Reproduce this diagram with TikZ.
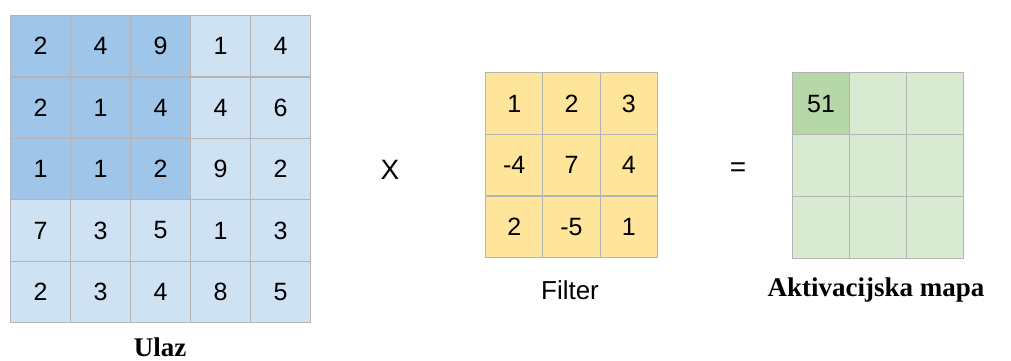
\documentclass[tikz,border=0pt]{standalone}
\usepackage{fontspec}
\setmainfont{Liberation Serif}
\setsansfont{Liberation Sans}
\usetikzlibrary{positioning}

\definecolor{inlight}{HTML}{CFE2F3}
\definecolor{indark}{HTML}{9FC5E8}
\definecolor{filtfill}{HTML}{FFE599}
\definecolor{maplight}{HTML}{D9EAD3}
\definecolor{mapdark}{HTML}{B6D7A8}
\definecolor{gridline}{HTML}{B4B4B4}

\begin{document}
\begin{tikzpicture}[
    x=1pt, y=-1pt,
    cell/.style = {
        rectangle,
        draw=gridline,
        line width=1.1pt,
        anchor=north west,
        inner sep=0pt,
        font=\sffamily\fontsize{25}{25}\selectfont
    },
    incell/.style = {cell, minimum width=60pt, minimum height=61.4pt},
    filtcell/.style = {cell, fill=filtfill, minimum width=57.3pt, minimum height=61.7pt},
    mapcell/.style = {cell, minimum width=57pt, minimum height=62pt},
    caption/.style = {font=\bfseries\fontsize{27}{27}\selectfont},
    sfcaption/.style = {font=\sffamily\fontsize{26}{26}\selectfont},
    operator/.style = {font=\sffamily\fontsize{28}{28}\selectfont}
]
\useasboundingbox (0,0) rectangle (1011,361);

% input 5x5
\foreach \row [count=\r from 0] in {{2,4,9,1,4},{2,1,4,4,6},{1,1,2,9,2},{7,3,5,1,3},{2,3,4,8,5}} {
    \foreach \val [count=\c from 0] in \row {
        \pgfmathtruncatemacro\isdark{and(\r<3,\c<3)}
        \ifnum\isdark=1 \def\cellfill{indark}\else\def\cellfill{inlight}\fi
        \node (in-\r-\c) [incell, fill=\cellfill] at (10+60*\c, 15+61.4*\r) {\val};
    }
}

% filter 3x3
\foreach \row [count=\r from 0] in {{1,2,3},{-4,7,4},{2,-5,1}} {
    \foreach \val [count=\c from 0] in \row {
        \node (filt-\r-\c) [filtcell] at (485+57.3*\c, 72+61.7*\r) {\val};
    }
}

% activation map 3x3, only the first value is filled in
\foreach \r in {0,1,2} {
    \foreach \c in {0,1,2} {
        \pgfmathtruncatemacro\isfirst{and(\r==0,\c==0)}
        \ifnum\isfirst=1 \def\cellfill{mapdark}\def\cellval{51}\else\def\cellfill{maplight}\def\cellval{}\fi
        \node (map-\r-\c) [mapcell, fill=\cellfill] at (792+57*\c, 72+62*\r) {\cellval};
    }
}

\node (times) [operator] at (390,170) {X};
\node (equals) [operator] at (738,170) {=};

\node (ulaz) [caption] at (160,347) {Ulaz};
\node (filter) [sfcaption] at (570,290) {Filter};
\node (mapa) [caption] at (876,290) {Aktivacijska mapa};

\end{tikzpicture}
\end{document}
